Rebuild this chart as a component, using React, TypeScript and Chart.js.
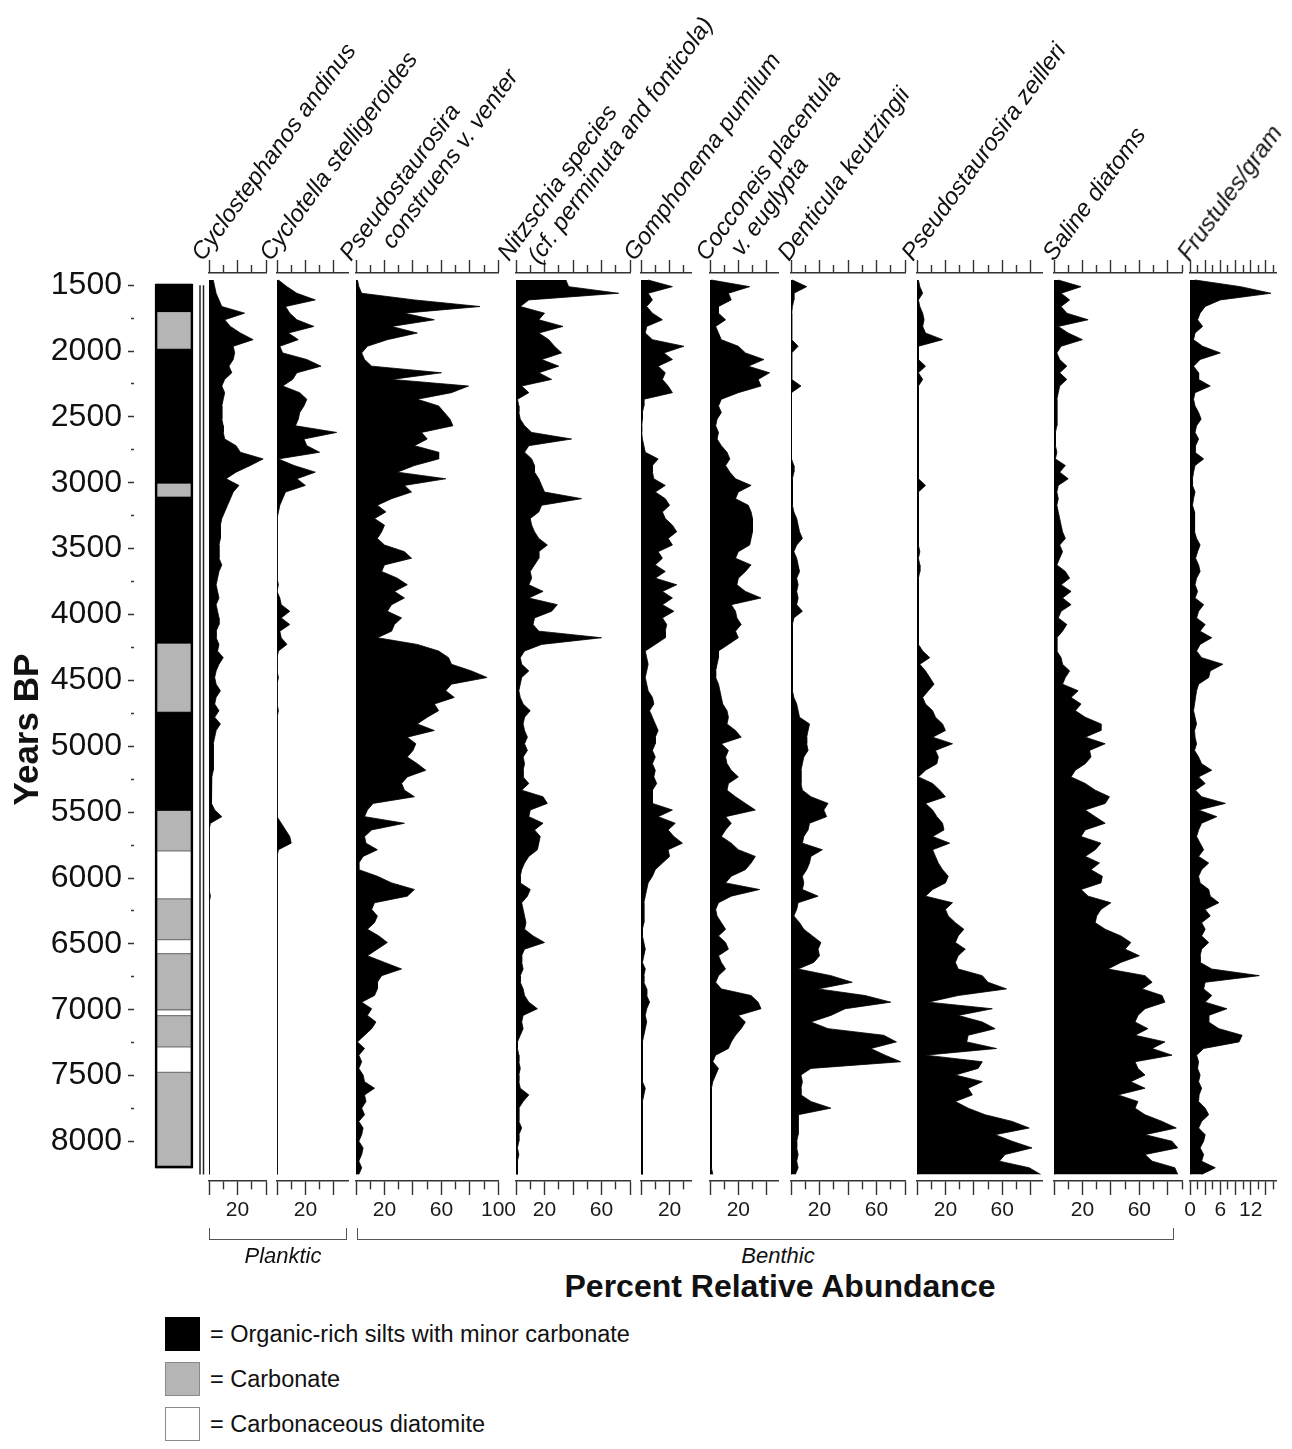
import React, { useEffect, useRef } from 'react';
import { Chart, registerables } from 'chart.js';

Chart.register(...registerables);

// ---------------- DATA ----------------
const AGES = [
  1500, 1550, 1600, 1650, 1700, 1750, 1800, 1850, 1900, 1950,
  2000, 2050, 2100, 2150, 2200, 2250, 2300, 2350, 2400, 2450,
  2500, 2550, 2600, 2650, 2700, 2750, 2800, 2850, 2900, 2950,
  3000, 3050, 3100, 3150, 3200, 3250, 3300, 3350, 3400, 3450,
  3500, 3550, 3600, 3650, 3700, 3750, 3800, 3850, 3900, 3950,
  4000, 4050, 4100, 4150, 4200, 4250, 4300, 4350, 4400, 4450,
  4500, 4550, 4600, 4650, 4700, 4750, 4800, 4850, 4900, 4950,
  5000, 5050, 5100, 5150, 5200, 5250, 5300, 5350, 5400, 5450,
  5500, 5550, 5600, 5650, 5700, 5750, 5800, 5850, 5900, 5950,
  6000, 6050, 6100, 6150, 6200, 6250, 6300, 6350, 6400, 6450,
  6500, 6550, 6600, 6650, 6700, 6750, 6800, 6850, 6900, 6950,
  7000, 7050, 7100, 7150, 7200, 7250, 7300, 7350, 7400, 7450,
  7500, 7550, 7600, 7650, 7700, 7750, 7800, 7850, 7900, 7950,
  8000, 8050, 8100, 8150, 8200, 8250,
];

const CYCLOSTEPHANOS = [
  3, 4, 5, 7, 9, 25, 11, 15, 22, 31,
  17, 18, 17, 14, 16, 11, 9, 11, 10, 9,
  9, 9, 10, 10, 11, 19, 22, 38, 29, 19,
  12, 21, 17, 15, 13, 11, 9, 8, 8, 8,
  7, 7, 7, 9, 7, 6, 5, 6, 7, 5,
  6, 7, 7, 5, 5, 7, 6, 10, 7, 5,
  4, 5, 8, 5, 4, 7, 4, 8, 5, 4,
  3, 3, 3, 3, 3, 2, 2, 2, 1.5, 1.5,
  4, 9, 1, 0, 0, 0, 0, 0, 0, 0,
  0, 0, 0, 1, 0, 0, 0, 0, 0, 0,
  0, 0, 0, 0, 0, 0, 0, 0, 0, 0,
  0, 0, 0, 0, 0, 0, 0, 0, 0, 0,
  0, 0, 0, 0, 0, 0, 0, 0, 0, 0,
  0, 0, 0, 0, 0, 0,
];

const CYCLOTELLA = [
  1, 7, 14, 27, 6, 9, 14, 26, 8, 15,
  2, 4, 21, 31, 14, 11, 4, 16, 21, 19,
  16, 15, 13, 42, 19, 21, 30, 1, 12, 27,
  14, 20, 6, 4, 2, 1, 0, 0, 0, 0,
  0, 0, 0, 0, 0, 0, 1, 0, 2, 3,
  9, 3, 9, 2, 3, 7, 1, 0, 0, 0,
  1, 0, 0, 0, 0, 1, 0, 0, 0, 0,
  0, 0, 0, 0, 0, 0, 0, 0, 0, 0,
  0, 0, 3, 6, 9, 10, 1, 0, 0, 0,
  0, 0, 0, 0, 0, 0, 0, 0, 0, 0,
  0, 0, 0, 0, 0, 0, 0, 0, 0, 0,
  0, 0, 0, 0, 0, 0, 0, 0, 0, 0,
  0, 0, 0, 0, 0, 0, 0, 0, 0, 0,
  0, 0, 0, 0, 0, 0,
];

const PS_CONSTRUENS = [
  1, 2, 4, 41, 87, 34, 55, 25, 43, 22,
  8, 4, 6, 11, 60, 25, 79, 67, 43, 58,
  62, 66, 68, 46, 50, 41, 58, 58, 41, 29,
  63, 34, 39, 25, 15, 21, 13, 20, 18, 15,
  20, 34, 39, 20, 18, 29, 36, 27, 34, 25,
  22, 32, 27, 25, 15, 43, 58, 65, 67, 81,
  92, 67, 63, 69, 55, 58, 50, 43, 55, 36,
  42, 40, 36, 43, 49, 36, 32, 34, 41, 12,
  8, 6, 34, 11, 6, 7, 15, 5, 2, 2,
  15, 25, 41, 36, 13, 11, 15, 13, 8, 16,
  22, 15, 8, 20, 32, 18, 15, 15, 13, 4,
  11, 8, 14, 11, 6, 1, 6, 2, 4, 2,
  5, 6, 13, 6, 7, 4, 6, 2, 5, 4,
  2, 5, 4, 2, 4, 2,
];

const NITZSCHIA = [
  35, 37, 72, 9, 3, 20, 16, 33, 16, 23,
  27, 32, 18, 30, 16, 25, 4, 9, 1, 2,
  2, 3, 6, 11, 39, 9, 6, 11, 13, 13,
  16, 18, 20, 46, 18, 16, 10, 11, 13, 16,
  22, 16, 16, 13, 10, 11, 9, 19, 9, 29,
  25, 13, 12, 16, 60, 18, 6, 3, 4, 9,
  4, 3, 2, 3, 5, 10, 6, 5, 6, 8,
  6, 8, 5, 6, 5, 5, 9, 4, 19, 22,
  10, 9, 19, 13, 17, 16, 15, 9, 6, 4,
  3, 3, 10, 8, 4, 5, 6, 7, 6, 12,
  20, 6, 4, 4, 5, 3, 3, 5, 6, 9,
  15, 5, 4, 5, 3, 1, 1, 2, 2, 3,
  2, 2, 3, 9, 5, 2, 2, 2, 4, 2,
  2, 1, 2, 1, 1, 1,
];

const GOMPHONEMA = [
  5, 22, 5, 8, 4, 8, 15, 4, 3, 8,
  30, 16, 22, 12, 17, 15, 19, 22, 2, 2,
  1, 1, 0.5, 0.5, 1, 2, 3, 12, 8, 8,
  9, 17, 10, 17, 20, 15, 17, 22, 25, 19,
  22, 12, 15, 10, 17, 10, 25, 15, 22, 15,
  23, 15, 18, 17, 17, 10, 3, 4, 5, 4,
  3, 4, 5, 8, 9, 6, 8, 10, 12, 10,
  10, 8, 10, 8, 10, 9, 11, 8, 8, 8,
  22, 12, 24, 19, 23, 29, 19, 20, 15, 10,
  8, 5, 4, 3, 2, 2, 2, 2, 1, 1,
  2, 3, 2, 1, 3, 2, 2, 4, 4, 6,
  4, 3, 4, 3, 2, 1, 1, 1, 1, 1,
  1, 1, 3, 2, 1, 1, 1, 1, 1, 1,
  1, 1, 1, 1, 1, 1,
];

const COCCONEIS = [
  1, 28, 13, 15, 6, 6, 11, 4, 6, 8,
  20, 25, 38, 27, 42, 34, 36, 20, 8, 6,
  8, 5, 4, 6, 5, 8, 12, 14, 11, 14,
  18, 29, 20, 18, 27, 29, 30, 30, 30, 29,
  28, 20, 18, 29, 25, 20, 19, 25, 36, 15,
  18, 19, 22, 18, 20, 13, 6, 6, 5, 4,
  4, 6, 7, 8, 9, 12, 13, 12, 18, 22,
  8, 13, 11, 12, 15, 20, 13, 12, 18, 25,
  32, 11, 15, 11, 8, 15, 20, 32, 29, 25,
  15, 11, 35, 15, 6, 4, 5, 8, 11, 6,
  11, 13, 6, 8, 11, 6, 4, 8, 29, 34,
  36, 20, 25, 22, 18, 15, 13, 4, 2, 6,
  4, 2, 1, 1, 1, 1, 1, 1, 1, 1,
  1, 1, 1, 1, 1, 2,
];

const DENTICULA = [
  1, 11, 2, 2, 1, 0.5, 0.5, 0.5, 0.5, 0.5,
  5, 0.5, 0.5, 0.5, 0.5, 0.5, 7, 0.3, 0.3, 0.3,
  0.3, 0.3, 0.3, 0.3, 0.3, 0.3, 0.3, 0.5, 2, 2,
  1, 1, 1, 1, 1, 2, 4, 5, 6, 8,
  4, 2, 4, 5, 6, 4, 5, 4, 5, 4,
  8, 2, 1, 1, 1, 1, 1, 1, 1, 1,
  1, 1, 1, 2, 4, 5, 6, 13, 12, 11,
  11, 12, 9, 8, 7, 7, 7, 8, 14, 26,
  23, 25, 13, 12, 9, 8, 22, 14, 13, 11,
  8, 9, 8, 19, 5, 4, 2, 6, 9, 15,
  21, 19, 20, 16, 5, 28, 43, 19, 52, 70,
  38, 28, 14, 26, 65, 74, 56, 66, 77, 14,
  7, 8, 7, 7, 14, 28, 5, 5, 5, 5,
  4, 4, 5, 4, 5, 3,
];

const PS_ZEILLERI = [
  1, 2, 4, 1, 2, 4, 5, 4, 6, 18,
  1, 1, 1, 6, 1, 4, 1, 1, 1, 1,
  1, 1, 1, 1, 1, 1, 1, 1, 1, 1,
  1, 6, 1, 1, 1, 1, 1, 1, 1, 1,
  1, 2, 1, 2, 2, 1, 1, 1, 1, 1,
  1, 1, 1, 1, 1, 1, 4, 9, 2, 6,
  9, 12, 8, 4, 6, 11, 13, 18, 20, 11,
  25, 13, 15, 14, 6, 1, 11, 16, 20, 6,
  11, 14, 18, 19, 11, 23, 11, 13, 15, 18,
  22, 20, 11, 6, 25, 20, 22, 27, 33, 29,
  27, 34, 29, 27, 29, 46, 50, 63, 29, 8,
  53, 29, 46, 55, 36, 35, 56, 6, 46, 43,
  27, 46, 36, 39, 27, 36, 48, 67, 79, 55,
  67, 81, 62, 58, 79, 87,
];

const SALINE = [
  3, 19, 5, 11, 5, 9, 24, 3, 10, 20,
  5, 2, 4, 9, 4, 9, 4, 3, 2, 2,
  2, 2, 2, 1, 1, 1, 2, 1, 8, 4,
  10, 3, 2, 3, 2, 3, 4, 5, 6, 8,
  4, 6, 4, 2, 8, 11, 5, 12, 6, 12,
  5, 3, 9, 6, 2, 2, 2, 5, 6, 11,
  8, 6, 17, 12, 19, 15, 22, 33, 33, 22,
  36, 25, 26, 22, 15, 12, 22, 29, 39, 36,
  22, 29, 36, 22, 19, 33, 29, 22, 32, 26,
  34, 33, 19, 24, 40, 33, 30, 29, 36, 47,
  54, 50, 60, 47, 38, 64, 69, 62, 76, 78,
  64, 59, 57, 66, 57, 78, 69, 83, 57, 59,
  64, 54, 64, 45, 59, 57, 64, 76, 86, 64,
  83, 87, 64, 69, 85, 87,
];

const FRUSTULES = [
  1, 10, 16, 6, 3, 2, 1.5, 2.5, 1, 0.7,
  2.5, 6, 2, 0.7, 1.7, 1.7, 4, 1, 0.7, 1,
  1.7, 2.2, 1.3, 1, 1.7, 1.1, 1, 2.7, 1, 0.7,
  0.5, 0.5, 1, 0.7, 0.5, 0.9, 0.9, 0.9, 0.9, 1.3,
  2, 1.5, 1.1, 1.7, 2, 1.3, 1, 1.5, 1, 2.7,
  1.7, 1.3, 3, 2, 4.3, 2, 1.3, 2.3, 6.5, 4,
  3.7, 1.7, 1.3, 1.1, 0.9, 0.7, 1, 1.3, 0.9, 1,
  1.3, 0.9, 1.7, 2.3, 4.3, 1.7, 3, 1.1, 2.3, 7,
  1.7, 5.3, 2.3, 1.7, 1.3, 2, 2.7, 1.7, 3.7, 2.3,
  1.7, 2, 3.7, 4, 5.7, 3, 4, 2.3, 3, 2.3,
  3.7, 2.3, 2, 2, 4.3, 13.7, 3, 2.7, 4.3, 3,
  7.3, 3.7, 3.7, 5.7, 10.3, 9.7, 2.7, 1.3, 1.7, 1.5,
  2, 1.7, 2.3, 1.8, 1.7, 3, 3.7, 2.3, 1.7, 3,
  2.7, 2, 2.7, 2.3, 5, 2.3,
];

// Lithology units (years BP)
const LITH_FROM = [1492, 1701, 1983, 3002, 3105, 4217, 4740, 5487, 5794, 6159, 6468, 6574, 7000, 7045, 7282, 7475];
const LITH_TO = [1701, 1983, 3002, 3105, 4217, 4740, 5487, 5794, 6159, 6468, 6574, 7000, 7045, 7282, 7475, 8202];
const LITH_TYPE = [
  'organic', 'carbonate', 'organic', 'carbonate', 'organic', 'carbonate', 'organic', 'carbonate',
  'diatomite', 'carbonate', 'diatomite', 'carbonate', 'diatomite', 'carbonate', 'diatomite', 'carbonate',
];

const Y_TICK_LABELS = [1500, 2000, 2500, 3000, 3500, 4000, 4500, 5000, 5500, 6000, 6500, 7000, 7500, 8000];

// ---------------- LAYOUT / STYLE ----------------
const FONT = '"Liberation Sans", Arial, Helvetica, sans-serif';
const Y_MIN = 1447;
const Y_MAX = 8300;
const AREA_TOP = 273;
const AREA_H = 908;
const TOP_H = 20;
const BOTTOM_H = 50;
const PAD_X = 20;
const PPU = 1.425;

type PanelCfg = {
  id: string;
  values: number[];
  x0: number;
  max: number;
  step: number;
  ppu: number;
  kind: 'pct' | 'count';
  tickMax: number;
};

const PANELS: PanelCfg[] = [
  { id: 'cyclostephanos', values: CYCLOSTEPHANOS, x0: 209, max: 40, step: 10, ppu: PPU, kind: 'pct', tickMax: 40 },
  { id: 'cyclotella', values: CYCLOTELLA, x0: 277, max: 50, step: 10, ppu: PPU, kind: 'pct', tickMax: 40 },
  { id: 'construens', values: PS_CONSTRUENS, x0: 356, max: 100, step: 10, ppu: PPU, kind: 'pct', tickMax: 100 },
  { id: 'nitzschia', values: NITZSCHIA, x0: 516, max: 80, step: 10, ppu: PPU, kind: 'pct', tickMax: 80 },
  { id: 'gomphonema', values: GOMPHONEMA, x0: 641, max: 35, step: 10, ppu: PPU, kind: 'pct', tickMax: 30 },
  { id: 'cocconeis', values: COCCONEIS, x0: 710, max: 48, step: 10, ppu: PPU, kind: 'pct', tickMax: 40 },
  { id: 'denticula', values: DENTICULA, x0: 791, max: 80, step: 10, ppu: PPU, kind: 'pct', tickMax: 80 },
  { id: 'zeilleri', values: PS_ZEILLERI, x0: 917, max: 88, step: 10, ppu: PPU, kind: 'pct', tickMax: 80 },
  { id: 'saline', values: SALINE, x0: 1054, max: 90, step: 10, ppu: PPU, kind: 'pct', tickMax: 90 },
  { id: 'frustules', values: FRUSTULES, x0: 1190, max: 17, step: 1.5, ppu: 5.06, kind: 'count', tickMax: 16.5 },
];

const HEADERS = [
  { text: 'Cyclostephanos andinus', x: 203, y: 262 },
  { text: 'Cyclotella stelligeroides', x: 271, y: 262 },
  { text: 'Pseudostaurosira', x: 351, y: 262 },
  { text: 'construens v. venter', x: 393, y: 250 },
  { text: 'Nitzschia species', x: 509, y: 262 },
  { text: '(cf. perminuta and fonticola)', x: 539, y: 265 },
  { text: 'Gomphonema pumilum', x: 635, y: 262 },
  { text: 'Cocconeis placentula', x: 707, y: 262 },
  { text: 'v. euglypta', x: 742, y: 257 },
  { text: 'Denticula keutzingii', x: 789, y: 262 },
  { text: 'Pseudostaurosira zeilleri', x: 913, y: 262 },
  { text: 'Saline diatoms', x: 1054, y: 262 },
  { text: 'Frustules/gram', x: 1189, y: 262 },
];

const LITH_COLORS: Record<string, string> = { organic: '#000000', carbonate: '#b5b5b5', diatomite: '#ffffff' };

const near = (a: number, b: number) => Math.abs(a - b) < 1e-6;

// ---------------- COMPONENTS ----------------
function PanelChart({ cfg }: { cfg: PanelCfg }) {
  const ref = useRef<HTMLCanvasElement | null>(null);
  const areaW = Math.round(cfg.max * cfg.ppu);
  const W = areaW + 2 * PAD_X;
  const H = TOP_H + AREA_H + BOTTOM_H;

  useEffect(() => {
    if (!ref.current) return;
    const isMajor = (v: number) => (cfg.kind === 'pct' ? v % 20 === 0 : near(v % 3, 0));
    const isHidden = (v: number) => v > cfg.tickMax + 1e-6;
    const showLabel = (v: number) => (cfg.kind === 'pct' ? v % 40 === 20 : near(v % 6, 0));
    const bottomDash = (c: any) => {
      const v = c.tick ? c.tick.value : 0;
      if (isHidden(v)) return [0, 100];
      return isMajor(v) ? [] : [8, 100];
    };
    const topDash = (c: any) => {
      const v = c.tick ? c.tick.value : 0;
      if (isHidden(v)) return [0, 100];
      return isMajor(v) ? [] : [0, 5, 8, 100];
    };
    const chart = new Chart(ref.current, {
      type: 'line',
      data: {
        datasets: [
          {
            data: AGES.map((a, i) => ({ x: cfg.values[i], y: a })),
            fill: 'origin',
            backgroundColor: '#000000',
            borderColor: '#000000',
            borderWidth: 0.8,
            pointRadius: 0,
            tension: 0,
          },
          {
            data: [
              { x: 0, y: AGES[0] },
              { x: 0, y: AGES[AGES.length - 1] },
            ],
            fill: false,
            borderColor: '#222222',
            borderWidth: 1.5,
            pointRadius: 0,
          },
        ],
      },
      options: {
        indexAxis: 'y',
        animation: false,
        responsive: false,
        events: [],
        layout: { padding: { left: PAD_X, right: PAD_X, top: 0, bottom: 0 } },
        plugins: { legend: { display: false }, tooltip: { enabled: false } },
        scales: {
          y: { type: 'linear', reverse: true, min: Y_MIN, max: Y_MAX, display: false },
          x: {
            type: 'linear',
            position: 'bottom',
            min: 0,
            max: cfg.max,
            afterFit: (s: any) => {
              s.height = BOTTOM_H;
            },
            ticks: {
              stepSize: cfg.step,
              autoSkip: false,
              includeBounds: false,
              maxTicksLimit: 1000,
              maxRotation: 0,
              minRotation: 0,
              padding: 3,
              color: '#1a1a1a',
              font: { family: FONT, size: 21 },
              callback: (v: any) => (showLabel(Number(v)) ? String(v) : ''),
            },
            grid: {
              drawOnChartArea: false,
              drawTicks: true,
              tickLength: 14,
              tickWidth: 1.4,
              tickColor: '#333333',
              tickBorderDash: bottomDash as any,
            },
            border: { display: true, color: '#333333', width: 1.4 },
          },
          xTop: {
            type: 'linear',
            position: 'top',
            min: 0,
            max: cfg.max,
            afterFit: (s: any) => {
              s.height = TOP_H;
            },
            ticks: { display: false, stepSize: cfg.step, autoSkip: false, includeBounds: false, maxTicksLimit: 1000 },
            grid: {
              drawOnChartArea: false,
              drawTicks: true,
              tickLength: 13,
              tickWidth: 1.4,
              tickColor: '#333333',
              tickBorderDash: topDash as any,
            },
            border: { display: true, color: '#333333', width: 1.4 },
          },
        },
      } as any,
    });
    return () => chart.destroy();
  }, [cfg]);

  return (
    <canvas
      ref={ref}
      width={W}
      height={H}
      style={{ position: 'absolute', left: cfg.x0 - PAD_X, top: AREA_TOP - TOP_H, width: W, height: H }}
    />
  );
}

const doubleRulePlugin = {
  id: 'doubleRule',
  afterDraw(chart: any) {
    const { ctx, chartArea, scales } = chart;
    const y = scales.y;
    const t = y.getPixelForValue(AGES[0]);
    const b = y.getPixelForValue(AGES[AGES.length - 1]);
    ctx.save();
    ctx.strokeStyle = '#222222';
    ctx.lineWidth = 1.5;
    [14, 10.5].forEach((off) => {
      ctx.beginPath();
      ctx.moveTo(chartArea.right - off, t);
      ctx.lineTo(chartArea.right - off, b);
      ctx.stroke();
    });
    ctx.restore();
  },
};

function LithologyChart() {
  const ref = useRef<HTMLCanvasElement | null>(null);
  const W = 214;
  const H = TOP_H + AREA_H + BOTTOM_H;
  useEffect(() => {
    if (!ref.current) return;
    const datasets: any[] = [
      {
        data: [[LITH_FROM[0], LITH_TO[LITH_TO.length - 1]]],
        backgroundColor: 'rgba(0,0,0,0)',
        borderColor: '#000000',
        borderWidth: 2,
        borderSkipped: false,
        barThickness: 38,
        grouped: false,
        order: 0,
      },
      ...LITH_TYPE.map((t, i) => ({
        data: [[LITH_FROM[i], LITH_TO[i]]],
        backgroundColor: LITH_COLORS[t],
        borderColor: t === 'organic' ? '#000000' : '#7a7a7a',
        borderWidth: t === 'organic' ? 0 : 1,
        borderSkipped: false,
        barThickness: 36,
        grouped: false,
        order: 1,
      })),
    ];
    const chart = new Chart(ref.current, {
      type: 'bar',
      data: { labels: [''], datasets },
      options: {
        animation: false,
        responsive: false,
        events: [],
        layout: { padding: { top: TOP_H, bottom: BOTTOM_H, left: 0, right: 0 } },
        plugins: { legend: { display: false }, tooltip: { enabled: false } },
        scales: {
          x: { type: 'category', display: false },
          y: {
            type: 'linear',
            reverse: true,
            min: Y_MIN,
            max: Y_MAX,
            position: 'left',
            afterFit: (s: any) => {
              s.width = 134;
            },
            ticks: {
              stepSize: 250,
              autoSkip: false,
              includeBounds: false,
              maxTicksLimit: 1000,
              padding: 6,
              color: '#111111',
              font: { family: FONT, size: 32 },
              callback: (v: any) => (Y_TICK_LABELS.includes(Number(v)) ? String(v) : ''),
            },
            grid: {
              drawOnChartArea: false,
              drawTicks: true,
              tickLength: 6,
              tickWidth: 1.5,
              tickColor: '#333333',
              tickBorderDash: ((c: any) => {
                const v = c.tick ? c.tick.value : 0;
                if (v > 8000) return [0, 100];
                return Y_TICK_LABELS.includes(v) ? [] : [0, 3, 3, 100];
              }) as any,
            },
            border: { display: false },
            title: {
              display: true,
              text: 'Years BP',
              color: '#111111',
              font: { family: FONT, size: 35, weight: 'bold' },
              padding: { top: 7, bottom: 0 },
            },
          },
        },
      } as any,
      plugins: [doubleRulePlugin],
    });
    return () => chart.destroy();
  }, []);
  return (
    <canvas
      ref={ref}
      width={W}
      height={H}
      style={{ position: 'absolute', left: 0, top: AREA_TOP - TOP_H, width: W, height: H }}
    />
  );
}

function Header({ text, x, y }: { text: string; x: number; y: number }) {
  return (
    <div
      style={{
        position: 'absolute',
        left: x,
        top: y,
        width: 0,
        height: 0,
        transform: 'rotate(-54deg)',
        transformOrigin: '0 0',
      }}
    >
      <span
        style={{
          position: 'absolute',
          left: 0,
          bottom: -3.7,
          whiteSpace: 'nowrap',
          fontFamily: FONT,
          fontStyle: 'italic',
          fontSize: 24,
          lineHeight: '24px',
          color: '#111',
        }}
      >
        {text}
      </span>
    </div>
  );
}

function Bracket({ left, width, label, labelCenter }: { left: number; width: number; label: string; labelCenter: number }) {
  return (
    <>
      <div
        style={{
          position: 'absolute',
          left,
          top: 1228,
          width,
          height: 12,
          borderLeft: '1.5px solid #555',
          borderRight: '1.5px solid #555',
          borderBottom: '1.5px solid #555',
          boxSizing: 'border-box',
        }}
      />
      <div
        style={{
          position: 'absolute',
          left: labelCenter - 100,
          width: 200,
          top: 1243,
          textAlign: 'center',
          fontFamily: FONT,
          fontStyle: 'italic',
          fontSize: 22,
          lineHeight: '26px',
          color: '#111',
        }}
      >
        {label}
      </div>
    </>
  );
}

const LEGEND = [
  { label: '= Organic-rich silts with minor carbonate', fill: '#000000', border: '#000000', top: 1317 },
  { label: '= Carbonate', fill: '#b5b5b5', border: '#8a8a8a', top: 1362 },
  { label: '= Carbonaceous diatomite', fill: '#ffffff', border: '#8a8a8a', top: 1407 },
];

export default function App() {
  useEffect(() => {
    document.body.style.margin = '0';
  }, []);
  return (
    <div
      style={{
        position: 'relative',
        width: 1292,
        height: 1449,
        overflow: 'hidden',
        background: '#ffffff',
        fontFamily: FONT,
      }}
    >
      <LithologyChart />
      {PANELS.map((p) => (
        <PanelChart key={p.id} cfg={p} />
      ))}
      {HEADERS.map((h) => (
        <Header key={h.text} text={h.text} x={h.x} y={h.y} />
      ))}
      <Bracket left={209} width={138} label="Planktic" labelCenter={283} />
      <Bracket left={357} width={817} label="Benthic" labelCenter={778} />
      <div
        style={{
          position: 'absolute',
          left: 480,
          width: 600,
          top: 1268,
          textAlign: 'center',
          fontFamily: FONT,
          fontWeight: 'bold',
          fontSize: 32,
          lineHeight: '36px',
          color: '#111',
        }}
      >
        Percent Relative Abundance
      </div>
      {LEGEND.map((l) => (
        <React.Fragment key={l.label}>
          <div
            style={{
              position: 'absolute',
              left: 165,
              top: l.top,
              width: 35,
              height: 34,
              background: l.fill,
              border: `1.5px solid ${l.border}`,
              boxSizing: 'border-box',
            }}
          />
          <div
            style={{
              position: 'absolute',
              left: 210,
              top: l.top,
              height: 34,
              lineHeight: '34px',
              fontFamily: FONT,
              fontSize: 23.5,
              color: '#111',
              whiteSpace: 'nowrap',
            }}
          >
            {l.label}
          </div>
        </React.Fragment>
      ))}
    </div>
  );
}
